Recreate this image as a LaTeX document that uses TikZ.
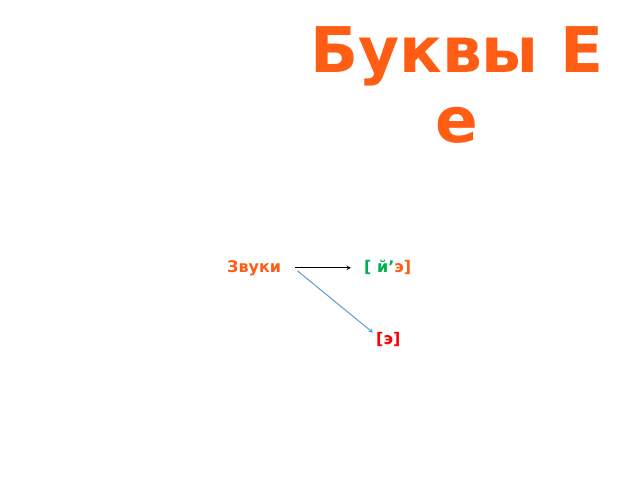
\documentclass[tikz,border=0pt]{standalone}
\usepackage{fontspec}
\setmainfont{DejaVu Sans}
\usepackage{tikz}
\usetikzlibrary{calc}
\definecolor{tangerine}{RGB}{ 255, 92, 20 }
\definecolor{grassgreen}{RGB}{ 0, 176, 80 }
\definecolor{sky}{RGB}{ 91, 155, 213 }

\begin{document}
\begin{tikzpicture}[x=1pt,y=-1pt,font=\bfseries]
\tikzstyle{title node}=[align=center,text=tangerine,inner sep=0,font=\bfseries\fontsize{63}{70}\selectfont]
\tikzstyle{sound node}=[inner sep=0,anchor=base west,font=\bfseries\fontsize{16}{18}\selectfont]
\tikzstyle{sound arrow}=[-stealth,line width=1pt]

\useasboundingbox (0,0) rectangle (640,480);

\node(title)[title node] at (457,85) {Буквы Е\\е};

\node(zvuki)[sound node,text=tangerine] at (227,272) {Звуки};
\node(yoe)[sound node] at (364,272) {{\color{grassgreen}[ й’}{\color{tangerine}э]}};
\node(e)[sound node,text=red] at (376,344) {[э]};

% start of both arrows
\coordinate (src) at ($(zvuki.east) + (14,0)$);
\draw[sound arrow,black] (src) -- ($(src -| yoe.west) + (-13,0)$);
\draw[sound arrow,sky] ($(src) + (2,3)$) -- ($(e.north west) + (-3,1)$);

\end{tikzpicture}
\end{document}
